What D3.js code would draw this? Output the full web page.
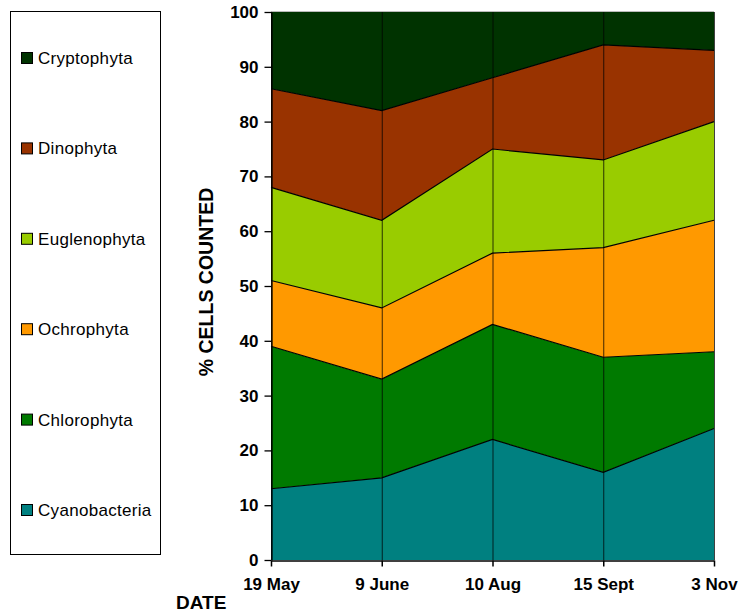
<!DOCTYPE html>
<html>
<head>
<meta charset="utf-8">
<script src="https://cdnjs.cloudflare.com/ajax/libs/d3/7.8.5/d3.min.js"></script>
<style>
  body { margin: 0; background: #fff; }
  text { font-family: "Liberation Sans", Arial, sans-serif; }
</style>
</head>
<body>
<script>
var w = 740, h = 613;

// data (percent of cells counted)
var dates = ["19 May", "9 June", "10 Aug", "15 Sept", "3 Nov"];
var groups = ["Cyanobacteria", "Chlorophyta", "Ochrophyta", "Euglenophyta", "Dinophyta", "Cryptophyta"];
var cyanobacteria = [13, 15, 22, 16, 24];
var chlorophyta   = [26, 18, 21, 21, 14];
var ochrophyta    = [12, 13, 13, 20, 24];
var euglenophyta  = [17, 16, 19, 16, 18];
var dinophyta     = [18, 20, 13, 21, 13];
var cryptophyta   = [14, 18, 12, 6, 7];
var yTicks = [0, 10, 20, 30, 40, 50, 60, 70, 80, 90, 100];
var colors = ["#008080", "#007a00", "#ff9900", "#99cc00", "#993300", "#003300"];

var series = [cyanobacteria, chlorophyta, ochrophyta, euglenophyta, dinophyta, cryptophyta];
var rows = dates.map(function(d, i) {
  var r = { date: d };
  groups.forEach(function(g, j) { r[g] = series[j][i]; });
  return r;
});

var svg = d3.select("body").append("svg")
            .attr("width", w)
            .attr("height", h);

var pLeft = 271, pRight = 714, pTop = 12, pBottom = 560;
var x = d3.scalePoint().domain(dates).range([pLeft, pRight]);
var y = d3.scaleLinear().domain([0, 100]).range([pBottom, pTop]);

var stack = d3.stack().keys(groups);
var layers = stack(rows);

var area = d3.area()
             .x(function(d) { return x(d.data.date); })
             .y0(function(d) { return y(d[0]); })
             .y1(function(d) { return y(d[1]); });

svg.selectAll(".layer")
   .data(layers)
   .enter()
   .append("path")
   .attr("class", "layer")
   .attr("d", area)
   .attr("fill", function(d, i) { return colors[i]; });

// boundary lines between layers
var line = d3.line()
             .x(function(d) { return x(d.data.date); })
             .y(function(d) { return y(d[1]); });
svg.selectAll(".edge")
   .data(layers.slice(0, layers.length - 1))
   .enter()
   .append("path")
   .attr("class", "edge")
   .attr("d", line)
   .attr("fill", "none")
   .attr("stroke", "#000")
   .attr("stroke-width", 1.2);

// vertical lines at each date
svg.selectAll(".vline")
   .data(dates)
   .enter()
   .append("line")
   .attr("x1", function(d) { return x(d) + 0.5; })
   .attr("x2", function(d) { return x(d) + 0.5; })
   .attr("y1", pTop)
   .attr("y2", pBottom)
   .attr("stroke", "#000")
   .attr("stroke-opacity", 0.75)
   .attr("stroke-width", 1);

// light border on top of plot
svg.append("line")
   .attr("x1", pLeft).attr("x2", pRight)
   .attr("y1", pTop - 0.5).attr("y2", pTop - 0.5)
   .attr("stroke", "#bbb");

// axes
var yAxis = d3.axisLeft(y).tickValues(yTicks).tickSize(7).tickPadding(6).tickSizeOuter(0);
var gy = svg.append("g")
            .attr("transform", "translate(" + (pLeft + 0.5) + ",0)")
            .call(yAxis);
gy.selectAll("text")
  .style("font-size", "17px")
  .style("font-weight", "bold")
  .attr("fill", "#000");
gy.selectAll("line, path").attr("stroke", "#000").attr("stroke-width", 1.3);

var xAxis = d3.axisBottom(x).tickSize(6).tickPadding(11).tickSizeOuter(0);
var gx = svg.append("g")
            .attr("transform", "translate(0," + (pBottom + 0.5) + ")")
            .call(xAxis);
gx.selectAll("text")
  .style("font-size", "17px")
  .style("font-weight", "bold")
  .attr("fill", "#000");
gx.selectAll("line, path").attr("stroke", "#000").attr("stroke-width", 1.5);

svg.append("text")
   .attr("transform", "translate(213,282) rotate(-90)")
   .attr("text-anchor", "middle")
   .style("font-size", "19.5px")
   .style("font-weight", "bold")
   .text("% CELLS COUNTED");

svg.append("text")
   .attr("x", 176)
   .attr("y", 609)
   .style("font-size", "19px")
   .style("font-weight", "bold")
   .text("DATE");

// legend
svg.append("rect")
   .attr("x", 10.5).attr("y", 11.5)
   .attr("width", 150).attr("height", 543)
   .attr("fill", "#fff")
   .attr("stroke", "#000");

var legendOrder = groups.slice().reverse();
var legend = svg.selectAll(".legend")
                .data(legendOrder)
                .enter()
                .append("g")
                .attr("class", "legend")
                .attr("transform", function(d, i) {
                  return "translate(21," + (58 + i * 90.4) + ")";
                });
legend.append("rect")
      .attr("x", 0.5).attr("y", -5.5)
      .attr("width", 11).attr("height", 11)
      .attr("fill", function(d) { return colors[groups.indexOf(d)]; })
      .attr("stroke", "#000");
legend.append("text")
      .attr("x", 17)
      .attr("y", 6)
      .style("font-size", "17px")
      .style("letter-spacing", "0.3px")
      .attr("fill", "#000")
      .text(function(d) { return d; });
</script>
</body>
</html>
